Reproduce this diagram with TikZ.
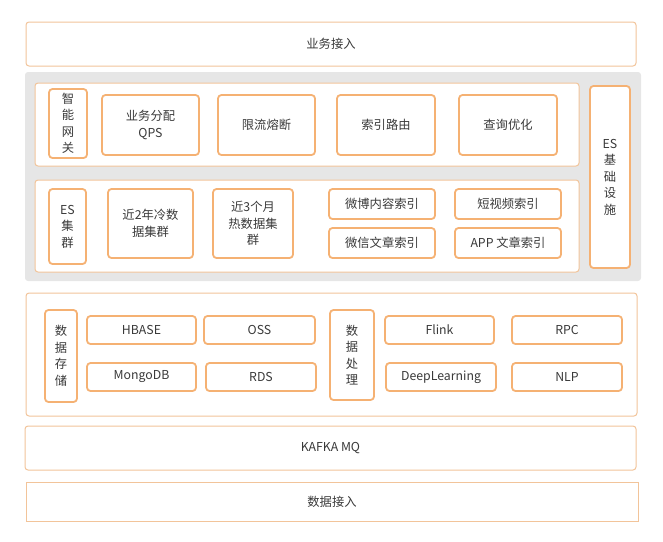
\documentclass[tikz,border=0pt]{standalone}
\usepackage{fontspec}
\setmainfont{Noto Sans CJK SC}
\usetikzlibrary{positioning}
\definecolor{ob}{HTML}{F5B173}
\definecolor{ol}{HTML}{F2C49A}
\definecolor{gbg}{HTML}{E6E6E6}
\definecolor{tx}{HTML}{3A3A3A}
\tikzset{
  panel/.style={draw=ol, line width=1pt, fill=white, rounded corners=3pt},
  flat/.style={draw=ol, line width=1pt, fill=white},
  item/.style={draw=ob, line width=1.8pt, fill=white, rounded corners=3.5pt},
  lbl/.style={text=tx, font=\fontsize{12.3}{16.5}\selectfont, align=center, inner sep=0pt}
}
% \bx{name}{x1}{y1}{x2}{y2}{style}{text}
\newcommand{\bx}[7]{%
  \node[#6, minimum width={(#4-#2)*1pt}, minimum height={(#5-#3)*1pt}, inner sep=0pt, outer sep=0pt]
    (#1) at ({(#2+#4)/2},{(#3+#5)/2}) {};
  \node[lbl] at (#1.center) {#7};
}
\begin{document}
\begin{tikzpicture}[x=1pt,y=-1pt]
\useasboundingbox (0,0) rectangle (663,541);
% top
\bx{biz}{26}{22}{636}{66}{panel}{业务接入}
% grey background
\node[fill=gbg, rounded corners=3pt, minimum width=616pt, minimum height=209pt, inner sep=0pt] (grey) at (333,176.5) {};
% upper panel
\bx{up}{35}{83}{579}{166}{panel}{}
\bx{gw}{49}{89}{87}{158}{item}{智\\能\\网\\关}
\bx{qps}{102}{95}{199}{155}{item}{业务分配\\QPS}
\bx{xl}{218}{95}{315}{155}{item}{限流熔断}
\bx{sy}{337}{95}{435}{155}{item}{索引路由}
\bx{cx}{459}{95}{557}{155}{item}{查询优化}
% ES infra
\bx{esi}{590}{86}{630}{268}{item}{ES\\基\\础\\设\\施}
% lower panel
\bx{lo}{35}{180}{579}{272}{panel}{}
\bx{esc}{49}{189}{86}{264}{item}{ES\\集\\群}
\bx{cold}{108}{189}{193}{258}{item}{近2年冷数\\据集群}
\bx{hot}{213}{189}{293}{258}{item}{近3个月\\热数据集\\群}
\bx{wb}{329}{189}{435}{219}{item}{微博内容索引}
\bx{dsp}{455}{189}{561}{219}{item}{短视频索引}
\bx{wx}{329}{228}{435}{258}{item}{微信文章索引}
\bx{app}{455}{228}{561}{258}{item}{APP 文章索引}
% data panel
\bx{data}{26}{293}{637}{416}{panel}{}
\bx{sto}{45}{310}{77}{402}{item}{数\\据\\存\\储}
\bx{hb}{87}{316}{196}{344}{item}{HBASE}
\bx{oss}{204}{316}{315}{344}{item}{OSS}
\bx{mg}{87}{363}{196}{391}{item}{MongoDB}
\bx{rds}{206}{363}{316}{391}{item}{RDS}
\bx{proc}{330}{310}{374}{400}{item}{数\\据\\处\\理}
\bx{fl}{385}{316}{494}{344}{item}{Flink}
\bx{rpc}{512}{316}{622}{344}{item}{RPC}
\bx{dl}{386}{363}{496}{391}{item}{DeepLearning}
\bx{nlp}{512}{363}{622}{391}{item}{NLP}
% kafka
\bx{kafka}{25}{426}{636}{470}{panel}{KAFKA MQ}
% data in
\bx{din}{26}{482}{638}{521}{flat}{数据接入}
\end{tikzpicture}
\end{document}
